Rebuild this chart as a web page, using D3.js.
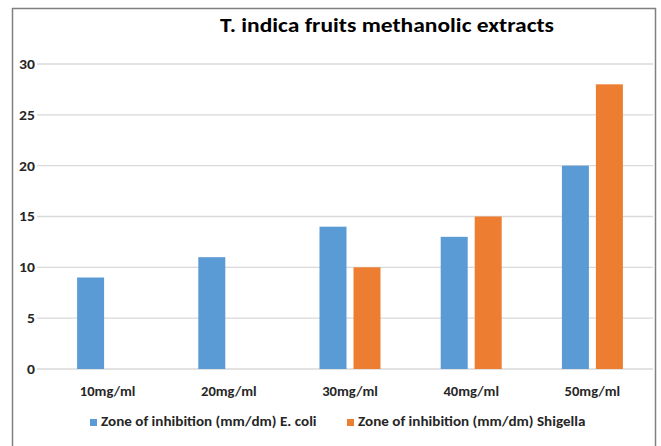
<!DOCTYPE html>
<html><head><meta charset="utf-8">
<script src="https://cdn.jsdelivr.net/npm/d3@7"></script>
<style>body{margin:0;background:#fff}svg{display:block}</style>
</head><body>
<script>
const categories = ["10mg/ml","20mg/ml","30mg/ml","40mg/ml","50mg/ml"];
const seriesNames = ["Zone of inhibition (mm/dm) E. coli","Zone of inhibition (mm/dm) Shigella"];
const ecoli = [9, 11, 14, 13, 20];
const shigella = [null, null, 10, 15, 28];
const yTicks = [0, 5, 10, 15, 20, 25, 30];
const title = "T. indica fruits methanolic extracts";
const colors = ["#5B9BD5", "#ED7D31"];

const W = 661, H = 446;
const SX = 1.12;
const svg = d3.select("body").append("svg").attr("width", W).attr("height", H);
const font = "Calibri, Carlito, 'Open Sans', sans-serif";

svg.append("rect").attr("x",12.5).attr("y",8.5).attr("width",643).attr("height",460)
  .attr("fill","none").attr("stroke","#808080").attr("stroke-width",1.5);

const x = d3.scaleBand().domain(categories).range([47, 653]);
const y = d3.scaleLinear().domain([0, 30]).range([369, 64]);

// gridlines
svg.append("g").selectAll("line").data(yTicks).join("line")
  .attr("x1", 37).attr("x2", 653)
  .attr("y1", d => y(d)).attr("y2", d => y(d))
  .attr("stroke", "#d9d9d9").attr("stroke-width", 1.3);

// y axis labels
const yAxis = d3.axisLeft(y).tickValues(yTicks).tickSize(0).tickPadding(0);
const gy = svg.append("g").attr("transform","translate(35,0)").call(yAxis);
gy.select(".domain").remove();
gy.selectAll("text").attr("font-family", font).attr("font-size", 14).attr("font-weight","bold")
  .attr("fill","#262626").attr("transform", `scale(${SX},1)`);

// x axis labels
const xAxis = d3.axisBottom(x).tickSize(0).tickPadding(0);
const gx = svg.append("g").attr("transform","translate(0,387)").call(xAxis);
gx.select(".domain").remove();
gx.selectAll("text").attr("font-family", font).attr("font-size", 13).attr("font-weight","bold")
  .attr("fill","#262626").attr("transform", `scale(${SX},1)`);

const barW = 27, gap = 7;
const series = [ecoli, shigella];
series.forEach((vals, si) => {
  svg.append("g").selectAll("rect")
    .data(categories.map((c,i)=>({c, v: vals[i]})).filter(d => d.v != null))
    .join("rect")
    .attr("x", d => x(d.c) + x.bandwidth()/2 + (si === 0 ? -gap/2 - barW : gap/2))
    .attr("width", barW)
    .attr("y", d => y(d.v))
    .attr("height", d => y(0) - y(d.v))
    .attr("fill", colors[si]);
});

// title
svg.append("text").attr("transform", `translate(387,32) scale(${SX},1)`).attr("text-anchor","middle")
  .attr("font-family", font).attr("font-size", 21).attr("font-weight","bold").attr("fill","#000")
  .text(title);

// legend
const legX = [90, 347];
seriesNames.forEach((n, i) => {
  svg.append("rect").attr("x", legX[i]).attr("y", 419).attr("width", 7).attr("height", 7).attr("fill", colors[i]);
  svg.append("text").attr("transform", `translate(${legX[i] + 11},426) scale(${SX},1)`)
    .attr("font-family", font).attr("font-size", 13.5).attr("font-weight", "bold").attr("fill","#262626")
    .text(n);
});
</script>
</body></html>
